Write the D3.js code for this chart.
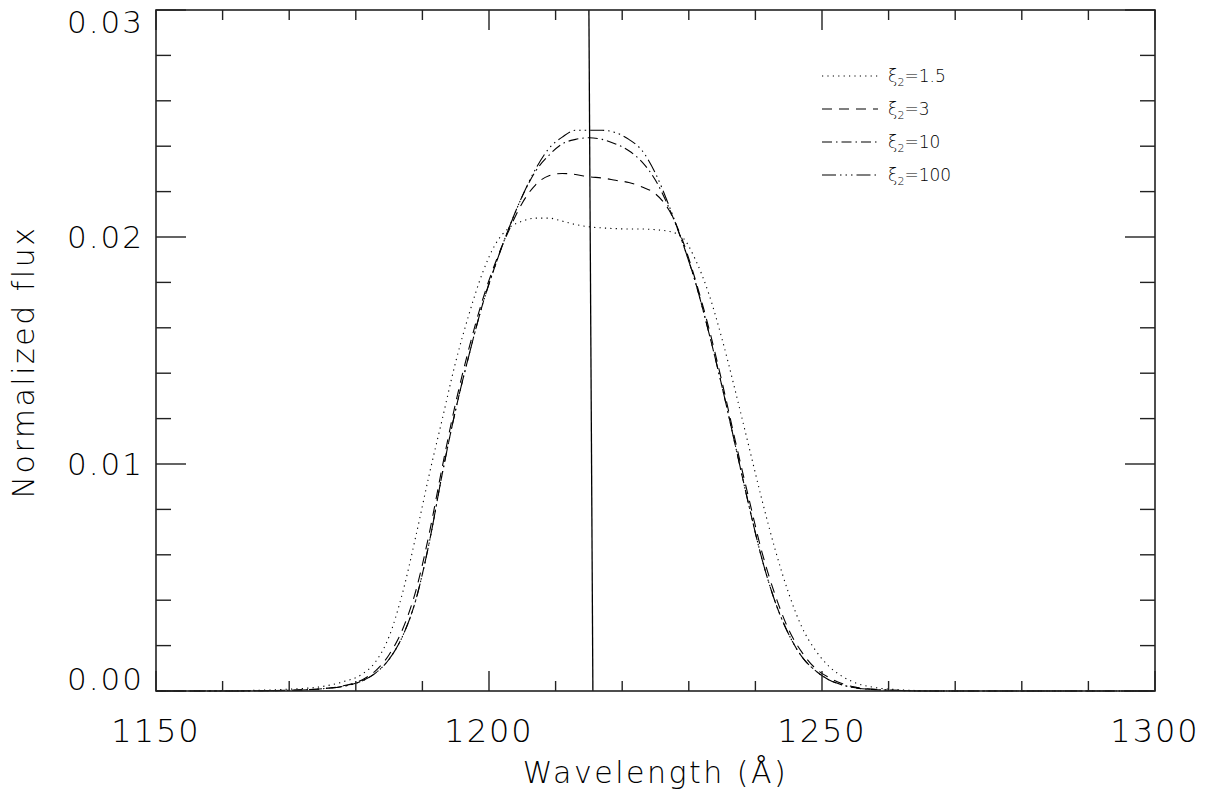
<!DOCTYPE html>
<html><head><meta charset="utf-8">
<script src="https://cdn.jsdelivr.net/npm/d3@7"></script>
<style>
body{margin:0;background:#fff;}
svg text{font-family:"DejaVu Sans",sans-serif;font-weight:200;fill:#000;}
</style></head>
<body><svg id="c" width="1207" height="795"></svg>
<script>
const wavelength = [1150,1160,1165,1170,1175,1178,1181,1183,1185,1187,1189,1191,1193,1195,1197,1199,1201,1203,1205,1207,1209,1211,1213,1215,1217,1219,1221,1223,1225,1227,1229,1231,1233,1235,1237,1239,1241,1243,1245,1247,1249,1251,1253,1255,1258,1262,1266,1270,1280,1290,1300];
const xi1_5 = [0,0.00001,0.00003,0.00008,0.0002,0.0004,0.00075,0.0013,0.0024,0.0043,0.0068,0.0095,0.0120,0.0145,0.0166,0.0184,0.0197,0.0204,0.0207,0.02083,0.02083,0.0207,0.02055,0.02045,0.0204,0.02037,0.02035,0.02035,0.02032,0.02025,0.0200,0.0190,0.0175,0.0155,0.0132,0.0108,0.0084,0.0062,0.0043,0.0028,0.0018,0.0011,0.00065,0.00036,0.00015,0.00005,0.00001,0,0,0,0];
const xi3 = [0,0,0.00001,0.00003,0.0001,0.00022,0.0005,0.0009,0.0016,0.0027,0.0044,0.0069,0.0099,0.0127,0.0151,0.0172,0.0189,0.0203,0.0215,0.0223,0.0227,0.0228,0.02275,0.02265,0.0226,0.0225,0.0224,0.0222,0.0219,0.0212,0.0199,0.0181,0.0160,0.0136,0.0110,0.0085,0.0061,0.0042,0.0027,0.0017,0.0010,0.0006,0.00033,0.00017,0.00007,0.00002,0,0,0,0,0];
const xi10 = [0,0,0.00001,0.00003,0.0001,0.0002,0.00045,0.0008,0.0014,0.0024,0.0040,0.0065,0.0096,0.0124,0.0148,0.0170,0.0188,0.0204,0.0218,0.0229,0.0236,0.0241,0.0243,0.02437,0.0243,0.0241,0.0238,0.0233,0.0225,0.0213,0.0198,0.0180,0.0158,0.0134,0.0108,0.0082,0.0058,0.0039,0.0025,0.0015,0.0009,0.0005,0.00027,0.00014,0.00006,0.00002,0,0,0,0,0];
const xi100 = [0,0,0.00001,0.00003,0.0001,0.0002,0.00045,0.0008,0.0014,0.0024,0.0040,0.0065,0.0096,0.0124,0.0148,0.0170,0.0188,0.0204,0.0218,0.0230,0.0239,0.0244,0.0247,0.0247,0.0247,0.0246,0.0243,0.0238,0.0228,0.0214,0.0198,0.0180,0.0158,0.0134,0.0108,0.0082,0.0058,0.0039,0.0025,0.0015,0.0009,0.0005,0.00027,0.00014,0.00006,0.00002,0,0,0,0,0];
const seriesNames = ["\u03BE","\u03BE","\u03BE","\u03BE"];
const seriesValues = ["1.5","3","10","100"];
const lyaLine = [[1215.6,0],[1215.0,0.03]];
const xTickLabels = ["1150","1200","1250","1300"];
const yTickLabels = ["0.00","0.01","0.02","0.03"];

const L=156,R=1155,T=10,B=691;
const x=d3.scaleLinear().domain([1150,1300]).range([L,R]);
const y=d3.scaleLinear().domain([0,0.03]).range([B,T]);
const svg=d3.select("#c");

const dashes=["1.2,4.2","10,7","10,4,1.5,4","14,4,1.5,4,1.5,4,1.5,4"];
const all=[xi1_5,xi3,xi10,xi100];
const line=d3.line().x(d=>x(d[0])).y(d=>y(d[1])).curve(d3.curveMonotoneX);
all.forEach((vals,i)=>{
  svg.append("path").datum(wavelength.map((w,j)=>[w,vals[j]]))
    .attr("d",line).attr("fill","none").attr("stroke","#000")
    .attr("stroke-width",1.1).attr("stroke-dasharray",dashes[i]);
});
svg.append("path").datum(lyaLine).attr("d",d3.line().x(d=>x(d[0])).y(d=>y(d[1])))
  .attr("stroke","#000").attr("stroke-width",1.3).attr("fill","none");

// frame
svg.append("rect").attr("x",L).attr("y",T).attr("width",R-L).attr("height",B-T)
  .attr("fill","none").attr("stroke","#222").attr("stroke-width",1.6);

// ticks
const g=svg.append("g").attr("stroke","#222").attr("stroke-width",1.4);
d3.range(1150,1301,10).forEach(v=>{
  const len=(v%50===0)?20:10;
  g.append("line").attr("x1",x(v)).attr("x2",x(v)).attr("y1",B).attr("y2",B-len);
  g.append("line").attr("x1",x(v)).attr("x2",x(v)).attr("y1",T).attr("y2",T+len);
});
d3.range(0,16).forEach(k=>{
  const v=k*0.002; const len=(k%5===0)?30:15;
  g.append("line").attr("x1",L).attr("x2",L+len).attr("y1",y(v)).attr("y2",y(v));
  g.append("line").attr("x1",R).attr("x2",R-len).attr("y1",y(v)).attr("y2",y(v));
});

// tick labels
xTickLabels.forEach(t=>{
  svg.append("text").attr("x",x(+t)).attr("y",742).attr("text-anchor","middle")
    .attr("font-size",32).attr("letter-spacing",2).text(t);
});
yTickLabels.forEach(t=>{
  const yy=Math.max(22,Math.min(679,y(+t)));
  svg.append("text").attr("x",144).attr("y",yy+11).attr("text-anchor","end")
    .attr("font-size",31).attr("letter-spacing",2).text(t);
});
svg.append("text").attr("x",(L+R)/2).attr("y",783).attr("text-anchor","middle")
  .attr("font-size",30).attr("letter-spacing",2.5).text("Wavelength (\u00C5)");
svg.append("text").attr("transform","translate(34,362) rotate(-90)").attr("text-anchor","middle")
  .attr("font-size",30).attr("letter-spacing",2.5).text("Normalized flux");

// legend
const legY=[76,109,142,175];
seriesValues.forEach((v,i)=>{
  svg.append("line").attr("x1",822).attr("x2",878).attr("y1",legY[i]).attr("y2",legY[i])
    .attr("stroke","#000").attr("stroke-width",1.1).attr("stroke-dasharray",dashes[i]);
  const t=svg.append("text").attr("x",888).attr("y",legY[i]+6).attr("font-size",17)
    .style("font-weight",300);
  t.append("tspan").text(seriesNames[i]);
  t.append("tspan").attr("font-size",11).attr("dy",4).text("2");
  t.append("tspan").attr("dy",-4).text("="+v);
});
</script></body></html>
